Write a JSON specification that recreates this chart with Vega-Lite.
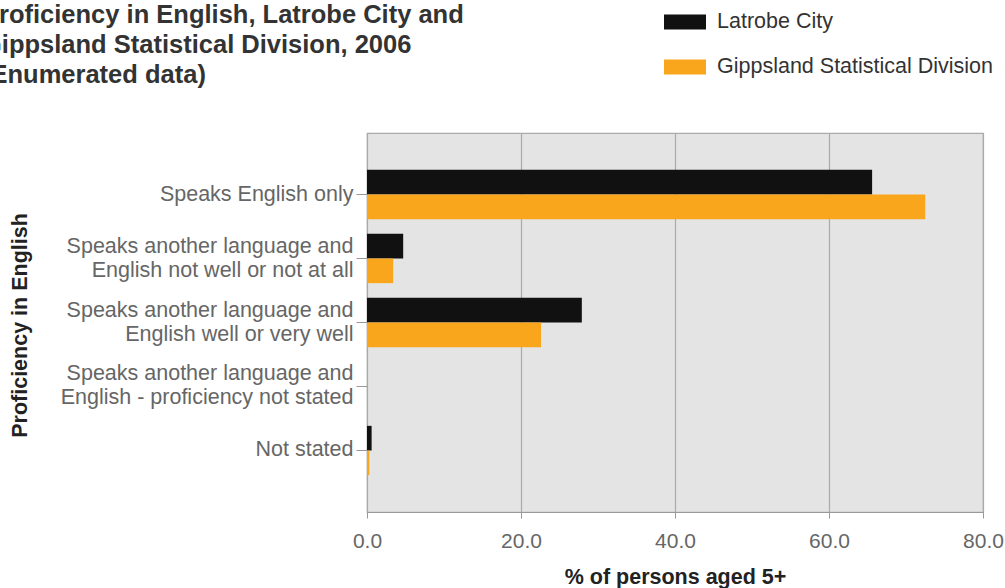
{
  "$schema": "https://vega.github.io/schema/vega-lite/v6.json",
  "width": 616,
  "height": 379,
  "autosize": {"type": "none"},
  "padding": {"left": 367, "top": 133, "right": 22, "bottom": 76},
  "background": "white",
  "title": {
    "text": ["Proficiency in English, Latrobe City and", "Gippsland Statistical Division, 2006", "(Enumerated data)"],
    "anchor": "start",
    "frame": "group",
    "dx": -385,
    "offset": -87,
    "font": "Liberation Sans",
    "fontSize": 25.5,
    "fontWeight": "bold",
    "color": "#333333",
    "lineHeight": 30
  },
  "data": {
    "values": [
      {"category": "Speaks English only", "region": "Latrobe City", "value": 65.6},
      {"category": "Speaks English only", "region": "Gippsland Statistical Division", "value": 72.5},
      {"category": "Speaks another language and English not well or not at all", "region": "Latrobe City", "value": 4.7},
      {"category": "Speaks another language and English not well or not at all", "region": "Gippsland Statistical Division", "value": 3.4},
      {"category": "Speaks another language and English well or very well", "region": "Latrobe City", "value": 27.9},
      {"category": "Speaks another language and English well or very well", "region": "Gippsland Statistical Division", "value": 22.6},
      {"category": "Speaks another language and English - proficiency not stated", "region": "Latrobe City", "value": 0},
      {"category": "Speaks another language and English - proficiency not stated", "region": "Gippsland Statistical Division", "value": 0},
      {"category": "Not stated", "region": "Latrobe City", "value": 0.6},
      {"category": "Not stated", "region": "Gippsland Statistical Division", "value": 0.3}
    ]
  },
  "mark": {"type": "bar"},
  "encoding": {
    "y": {
      "field": "category",
      "type": "nominal",
      "sort": [
        "Speaks English only",
        "Speaks another language and English not well or not at all",
        "Speaks another language and English well or very well",
        "Speaks another language and English - proficiency not stated",
        "Not stated"
      ],
      "scale": {"paddingInner": 0.23, "paddingOuter": 0.576},
      "axis": {
        "title": "Proficiency in English",
        "titleFont": "Liberation Sans",
        "titleFontSize": 21.5,
        "titleFontWeight": "bold",
        "titleColor": "#222222",
        "titleAngle": 270,
        "titleX": -347,
        "titleY": 192,
        "titleAlign": "center",
        "titleBaseline": "middle",
        "labelExpr": "split(replace(datum.label, ' and ', ' and|'), '|')",
        "labelOffset": {"expr": "indexof(datum.value, ' and ') >= 0 ? -12 : 0"},
        "labelFont": "Liberation Sans",
        "labelFontSize": 21.5,
        "labelColor": "#666666",
        "labelLineHeight": 24,
        "labelLimit": 400,
        "labelPadding": 3,
        "tickSize": 11,
        "tickColor": "#999999",
        "domain": false,
        "grid": false
      }
    },
    "yOffset": {
      "field": "region",
      "type": "nominal",
      "sort": ["Latrobe City", "Gippsland Statistical Division"],
      "scale": {"paddingInner": 0, "paddingOuter": 0}
    },
    "x": {
      "field": "value",
      "type": "quantitative",
      "scale": {"domain": [0, 80], "nice": false},
      "axis": {
        "title": "% of persons aged 5+",
        "titleFont": "Liberation Sans",
        "titleFontSize": 21.5,
        "titleFontWeight": "bold",
        "titleColor": "#222222",
        "titlePadding": 15,
        "values": [0, 20, 40, 60, 80],
        "format": ".1f",
        "labelFont": "Liberation Sans",
        "labelFontSize": 21,
        "labelColor": "#666666",
        "labelPadding": 12,
        "labelFlush": false,
        "tickSize": 6,
        "tickColor": "#999999",
        "domainColor": "#999999",
        "grid": true,
        "gridColor": "#aaaaaa",
        "gridWidth": 1.2
      }
    },
    "color": {
      "field": "region",
      "type": "nominal",
      "scale": {
        "domain": ["Latrobe City", "Gippsland Statistical Division"],
        "range": ["#111111", "#f9a61c"]
      },
      "legend": {
        "title": null,
        "orient": "none",
        "legendX": 297,
        "legendY": -132,
        "padding": 0,
        "symbolType": "M-1,-0.36L1,-0.36L1,0.36L-1,0.36Z",
        "symbolSize": 1764,
        "symbolStrokeWidth": 0,
        "symbolOpacity": 1,
        "labelFont": "Liberation Sans",
        "labelFontSize": 21.5,
        "labelColor": "#333333",
        "labelOffset": 11,
        "labelLimit": 400,
        "rowPadding": 13
      }
    }
  },
  "config": {
    "view": {"fill": "#e4e4e4", "stroke": "#aaaaaa", "strokeWidth": 1.2}
  }
}
